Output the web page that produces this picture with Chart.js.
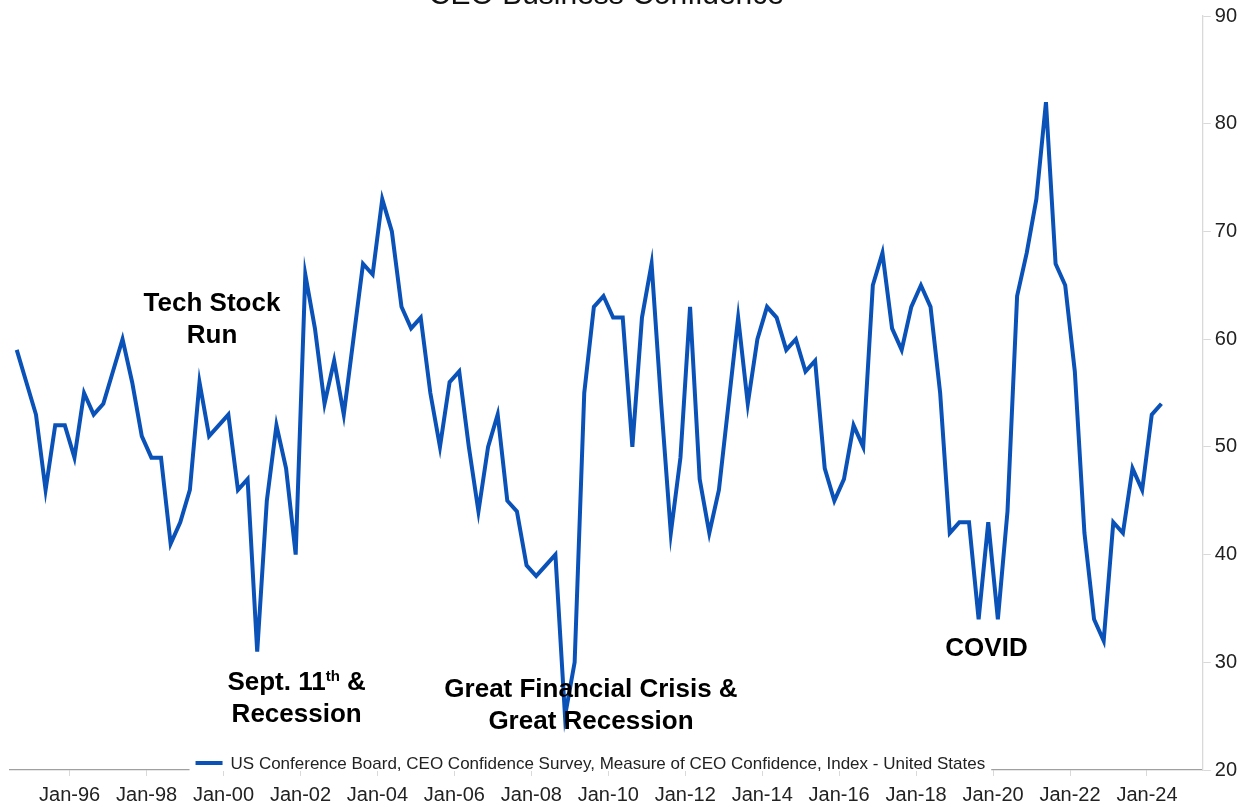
<!DOCTYPE html>
<html>
<head>
<meta charset="utf-8">
<title>CEO Business Confidence</title>
<script src="https://cdn.jsdelivr.net/npm/chart.js@4.4.1/dist/chart.umd.min.js"></script>
<style>
  html, body { margin: 0; padding: 0; background: #fff; }
  #wrap { position: relative; width: 1247px; height: 807px; }
</style>
</head>
<body>
<div id="wrap"><canvas id="ceoChart"></canvas></div>
<script>
// quarterly survey, first reading is 1994 Q3
const firstYear = 1994;
const firstQuarter = 3;

const confidence = [
  59, 56,           // 1994 Q3-Q4
  53, 46, 52, 52,   // 1995
  49, 55, 53, 54,   // 1996
  57, 60, 56, 51,   // 1997
  49, 49, 41, 43,   // 1998
  46, 56, 51, 52,   // 1999
  53, 46, 47, 31,   // 2000
  45, 52, 48, 40,   // 2001
  66, 61, 54, 58,   // 2002
  53, 60, 67, 66,   // 2003
  73, 70, 63, 61,   // 2004
  62, 55, 50, 56,   // 2005
  57, 50, 44, 50,   // 2006
  53, 45, 44, 39,   // 2007
  38, 39, 40, 25,   // 2008
  30, 55, 63, 64,   // 2009
  62, 62, 50, 62,   // 2010
  67, 54, 42, 49,   // 2011
  63, 47, 42, 46,   // 2012
  54, 62, 54, 60,   // 2013
  63, 62, 59, 60,   // 2014
  57, 58, 48, 45,   // 2015
  47, 52, 50, 65,   // 2016
  68, 61, 59, 63,   // 2017
  65, 63, 55, 42,   // 2018
  43, 43, 34, 43,   // 2019
  34, 44, 64, 68,   // 2020
  73, 82, 67, 65,   // 2021
  57, 42, 34, 32,   // 2022
  43, 42, 48, 46,   // 2023
  53, 54            // 2024 Q1-Q2
];

const tickYears = [1996, 1998, 2000, 2002, 2004, 2006, 2008, 2010, 2012, 2014, 2016, 2018, 2020, 2022, 2024];
const tickLabels = ["Jan-96", "Jan-98", "Jan-00", "Jan-02", "Jan-04", "Jan-06", "Jan-08", "Jan-10",
                    "Jan-12", "Jan-14", "Jan-16", "Jan-18", "Jan-20", "Jan-22", "Jan-24"];

const chartTitle = "CEO Business Confidence";
const seriesName = "US Conference Board, CEO Confidence Survey, Measure of CEO Confidence, Index - United States";

// event notes, anchored in axis units (year, index level); [text, superscript?]
const notes = [
  { year: 1999.7, value: 63.3, lines: [[["Tech Stock", false]], [["Run", false]]] },
  { year: 2001.9, value: 28.1, lines: [[["Sept. 11", false], ["th", true], [" &", false]], [["Recession", false]]] },
  { year: 2009.55, value: 27.4, lines: [[["Great Financial Crisis &", false]], [["Great Recession", false]]] },
  { year: 2019.83, value: 31.25, lines: [[["COVID", false]]] }
];

const lineBlue = "#0a52b8";
const baseFont = '"Liberation Sans", Arial, sans-serif';

// quarter midpoints as fractional years
const points = confidence.map((v, i) => ({
  x: firstYear + (firstQuarter - 1 + i) * 0.25 + 0.125,
  y: v
}));

const textLayer = {
  id: "textLayer",
  afterDraw(chart) {
    const { ctx, chartArea, scales } = chart;
    const xs = scales.x, ys = scales.y;
    const mid = (chartArea.left + chartArea.right) / 2;
    ctx.save();

    // title, top edge runs off the canvas
    ctx.fillStyle = "#111";
    ctx.font = "30px " + baseFont;
    ctx.textAlign = "center";
    ctx.textBaseline = "alphabetic";
    ctx.fillText(chartTitle, mid, 4);

    // notes
    ctx.fillStyle = "#000";
    ctx.textBaseline = "middle";
    ctx.textAlign = "left";
    const big = "bold 26px " + baseFont;
    const small = "bold 15px " + baseFont;
    notes.forEach(n => {
      const cx = xs.getPixelForValue(n.year);
      let cy = ys.getPixelForValue(n.value);
      n.lines.forEach(parts => {
        let w = 0;
        parts.forEach(([t, sup]) => { ctx.font = sup ? small : big; w += ctx.measureText(t).width; });
        let px = cx - w / 2;
        parts.forEach(([t, sup]) => {
          ctx.font = sup ? small : big;
          ctx.fillText(t, px, sup ? cy - 6 : cy);
          px += ctx.measureText(t).width;
        });
        cy += 32;
      });
    });

    // legend sitting on the bottom axis
    ctx.font = "17px " + baseFont;
    const tw = ctx.measureText(seriesName).width;
    const total = 27 + 8 + tw;
    const lx = mid - 16 - total / 2;
    const ly = chartArea.bottom - 7;
    ctx.fillStyle = "#fff";
    ctx.fillRect(lx - 6, ly - 11, total + 12, 19);
    ctx.strokeStyle = lineBlue;
    ctx.lineWidth = 4;
    ctx.beginPath();
    ctx.moveTo(lx, ly);
    ctx.lineTo(lx + 27, ly);
    ctx.stroke();
    ctx.fillStyle = "#222";
    ctx.textBaseline = "middle";
    ctx.fillText(seriesName, lx + 35, ly + 1);

    ctx.restore();
  }
};

new Chart(document.getElementById("ceoChart"), {
  type: "line",
  data: {
    datasets: [{
      label: seriesName,
      data: points,
      borderColor: lineBlue,
      borderWidth: 4,
      pointRadius: 0,
      tension: 0,
      fill: false
    }]
  },
  options: {
    responsive: true,
    maintainAspectRatio: false,
    animation: false,
    layout: { padding: { top: 16, left: 10, right: 6, bottom: 2 } },
    plugins: {
      legend: { display: false },
      title: { display: false },
      tooltip: { enabled: false }
    },
    scales: {
      x: {
        type: "linear",
        min: 1994.45,
        max: 2025.45,
        afterBuildTicks: scale => { scale.ticks = tickYears.map(v => ({ value: v })); },
        afterFit: scale => { scale.height -= 9; },
        ticks: {
          autoSkip: false,
          maxRotation: 0,
          padding: 7,
          color: "#222",
          font: { family: baseFont, size: 20 },
          callback: (v) => tickLabels[tickYears.indexOf(v)]
        },
        grid: { drawOnChartArea: false, tickLength: 6, color: "#d9d9d9" },
        border: { display: true, color: "#a0a0a0", width: 1.3 }
      },
      y: {
        position: "right",
        min: 20,
        max: 90,
        afterFit: scale => {
          scale.paddingTop = 0;
          scale.paddingBottom = 0;
        },
        ticks: {
          stepSize: 10,
          padding: 4,
          color: "#222",
          font: { family: baseFont, size: 20 }
        },
        grid: { drawOnChartArea: false, tickLength: 8, color: "#d9d9d9" },
        border: { display: true, color: "#d9d9d9", width: 1.3 }
      }
    }
  },
  plugins: [textLayer]
});
</script>
</body>
</html>
